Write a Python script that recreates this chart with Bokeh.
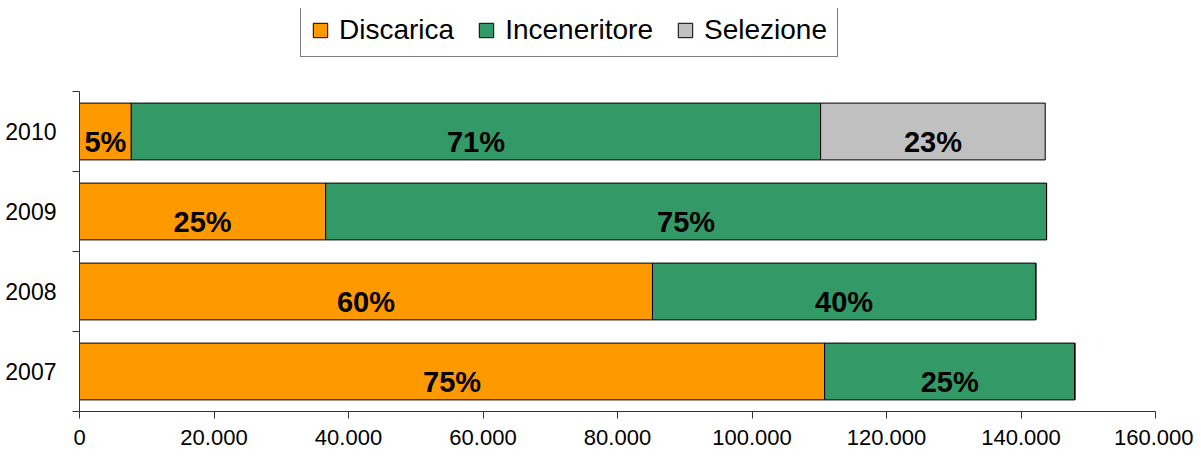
from bokeh.plotting import figure
from bokeh.models import ColumnDataSource, FixedTicker, Legend, LegendItem, Range1d
from bokeh.core.properties import value
from bokeh.embed import file_html
from bokeh.resources import INLINE

years = ["2007", "2008", "2009", "2010"]
discarica = [110800, 85200, 36600, 7700]
inceneritore = [37200, 57000, 107200, 102500]
selezione = [0, 0, 0, 33400]
series_names = ["Discarica", "Inceneritore", "Selezione"]
colors = ["#FF9900", "#339966", "#C0C0C0"]
x_ticks = [0, 20000, 40000, 60000, 80000, 100000, 120000, 140000, 160000]

FONT = "Liberation Sans"

ypos = [i + 0.5 for i in range(len(years))]
src = ColumnDataSource(dict(y=ypos, Discarica=discarica, Inceneritore=inceneritore, Selezione=selezione))

# frame spans legend area too; y-axis line limited to the categories
p = figure(width=1193, height=452, output_backend="svg", toolbar_location=None,
           x_range=Range1d(0, 160000), y_range=Range1d(0, 403 / 80.0),
           min_border_left=79, min_border_right=38, min_border_top=8, min_border_bottom=41)
p.outline_line_color = None
p.xgrid.visible = False
p.ygrid.visible = False

rs = p.hbar_stack(series_names, y="y", height=0.71, color=colors, source=src,
                  line_color="black", line_width=1)
for r, c in zip(rs, colors):
    r.glyph.fill_color = c
    r.glyph.line_color = "black"

# percentage labels
lx, ly, lt = [], [], []
for i in range(len(years)):
    vals = [discarica[i], inceneritore[i], selezione[i]]
    tot = sum(vals)
    left = 0
    for v in vals:
        if v > 0:
            lx.append(left + v / 2)
            ly.append(ypos[i])
            lt.append(f"{round(100 * v / tot)}%")
        left += v
p.text(x=lx, y=ly, text=lt, text_align="center", text_baseline="middle",
       text_font=value(FONT), text_font_style="bold", text_font_size="29px",
       text_color="black", y_offset=10)

# x axis
xa = p.xaxis[0]
xa.ticker = FixedTicker(ticks=x_ticks)
xa.major_label_overrides = {t: f"{t:,}".replace(",", ".") for t in x_ticks}
xa.major_label_text_font = FONT
xa.major_label_text_font_size = "22px"
xa.major_label_text_color = "black"
xa.axis_line_color = "#333333"
xa.major_tick_line_color = "#333333"
xa.major_tick_out = 7
xa.major_tick_in = 0
xa.minor_tick_line_color = None
xa.major_label_standoff = 11

# y axis
ya = p.yaxis[0]
ya.bounds = (0, 4)
ya.ticker = FixedTicker(ticks=ypos, minor_ticks=[0, 1, 2, 3, 4])
ya.major_label_overrides = {y: yr for y, yr in zip(ypos, years)}
ya.major_label_text_font = FONT
ya.major_label_text_font_size = "23px"
ya.major_label_text_color = "black"
ya.axis_line_color = "#333333"
ya.major_tick_line_color = None
ya.major_tick_out = 0
ya.major_tick_in = 0
ya.minor_tick_line_color = "#333333"
ya.minor_tick_out = 7
ya.minor_tick_in = 0
ya.major_label_standoff = 16

legend = Legend(items=[LegendItem(label=n, renderers=[r]) for n, r in zip(series_names, rs)],
                orientation="horizontal", location=(221, 354),
                label_text_font=FONT, label_text_font_size="28px", label_text_color="black",
                glyph_width=18, glyph_height=18, label_standoff=10, spacing=23,
                padding=10, border_line_color="black", border_line_width=1,
                background_fill_color="white", background_fill_alpha=1.0,
                margin=0)
p.add_layout(legend, "center")

open("out.html", "w").write(file_html(p, INLINE))
